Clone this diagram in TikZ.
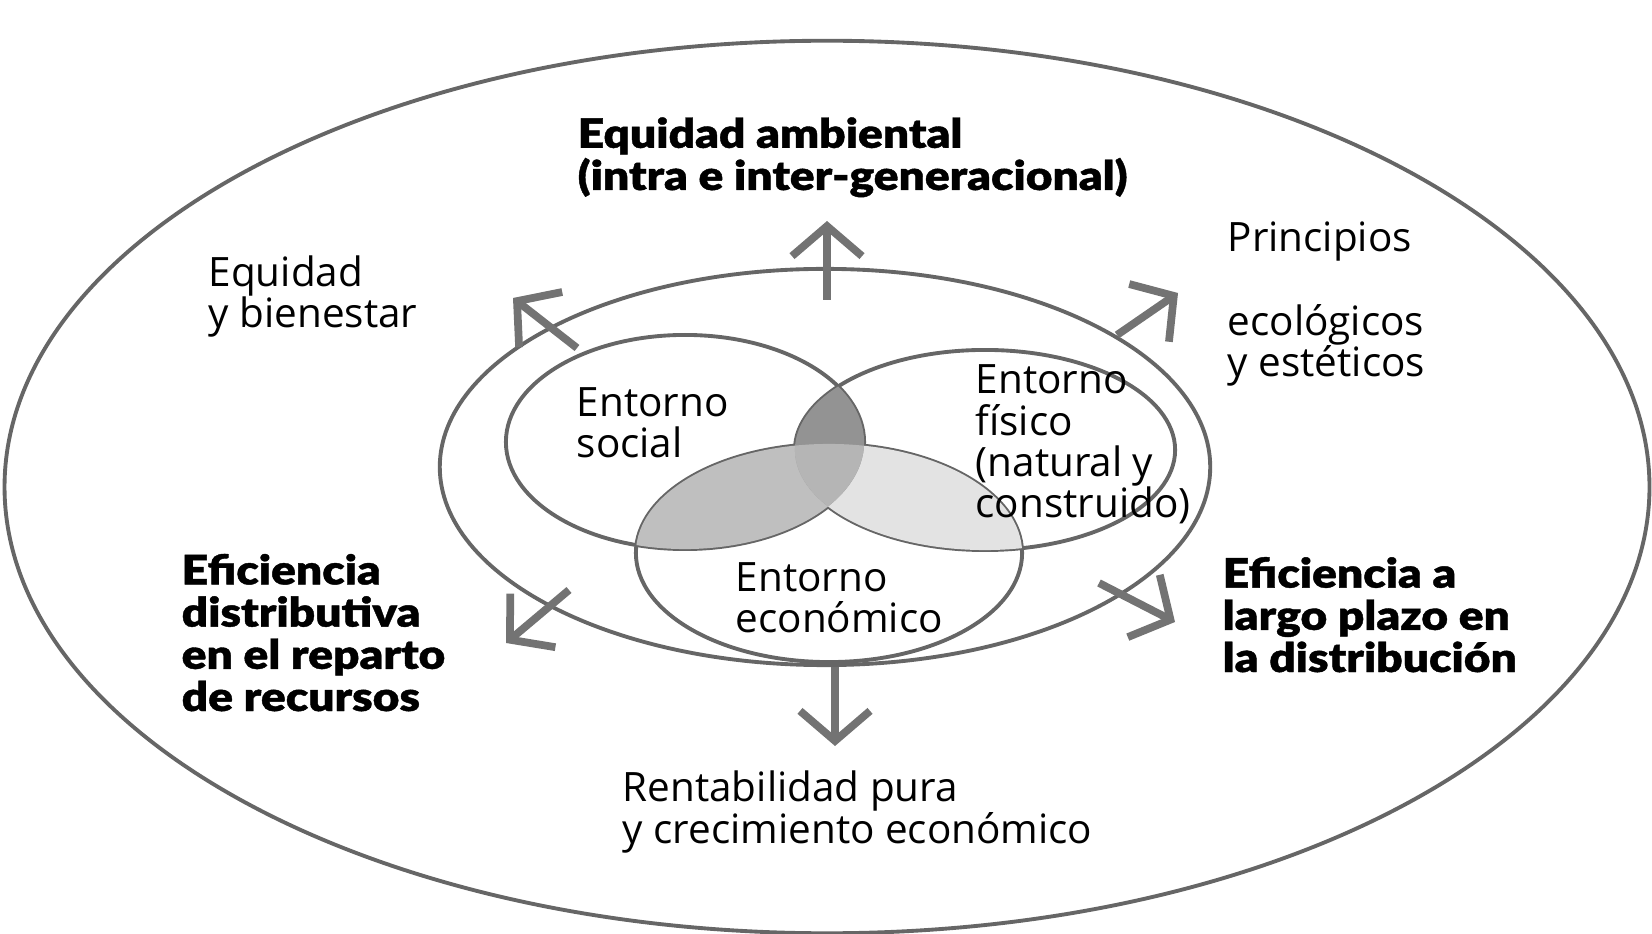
\documentclass[tikz,border=0pt]{standalone}
\usepackage{fontspec}
\setmainfont{Open Sans}
\newfontfamily\heavyfont[FakeStretch=1.14,FakeBold=1]{Lato Black}
\usetikzlibrary{arrows.meta}

\tikzset{
  ring/.style={draw=black!60, line width=1.1pt},
  spoke/.style={draw=black!55, line width=2.2pt, -{Straight Barb[length=3mm,width=7mm]}},
  plaintext/.style={font=\fontsize{11.5}{11.8}\selectfont, align=left, inner sep=0pt, anchor=base west},
  heavytext/.style={font=\heavyfont\fontsize{11.5}{12}\selectfont, align=left, inner sep=0pt, anchor=base west},
}

\begin{document}
\begin{tikzpicture}[x=0.01cm,y=-0.01cm]
  \useasboundingbox (0,0) rectangle (1652,934);

  % outer rings
  \draw[ring] (827,487) ellipse [x radius=8.22cm, y radius=4.46cm];
  \draw[ring] (825,467) ellipse [x radius=3.85cm, y radius=1.98cm];

  % the three environments
  \draw[ring] (685,442) ellipse [x radius=1.79cm, y radius=1.07cm];
  \draw[ring] (985,450) ellipse [x radius=1.90cm, y radius=1.00cm];
  \draw[ring] (829,553) ellipse [x radius=1.93cm, y radius=1.09cm];

  % shaded overlaps
  \begin{scope}
    \clip (829,553) ellipse [x radius=1.93cm, y radius=1.09cm];
    \fill[gray!50] (685,442) ellipse [x radius=1.79cm, y radius=1.07cm];
    \fill[gray!22] (985,450) ellipse [x radius=1.90cm, y radius=1.00cm];
  \end{scope}
  \begin{scope}
    \clip (685,442) ellipse [x radius=1.79cm, y radius=1.07cm];
    \fill[gray!85] (985,450) ellipse [x radius=1.90cm, y radius=1.00cm];
    \clip (985,450) ellipse [x radius=1.90cm, y radius=1.00cm];
    \fill[gray!58] (829,553) ellipse [x radius=1.93cm, y radius=1.09cm];
  \end{scope}

  % arrows
  \coordinate (nt) at (827,300);  \coordinate (nh) at (827,221);
  \coordinate (st) at (835,667);  \coordinate (sh) at (835,746);
  \coordinate (nwt) at (577,348); \coordinate (nwh) at (513,298);
  \coordinate (net) at (1117,335); \coordinate (neh) at (1178,293);
  \coordinate (swt) at (569,590); \coordinate (swh) at (506,643);
  \coordinate (set) at (1099,583); \coordinate (seh) at (1175,622);
  \draw[spoke] (nt) -- (nh);
  \draw[spoke] (st) -- (sh);
  \draw[spoke] (nwt) -- (nwh);
  \draw[spoke] (net) -- (neh);
  \draw[spoke] (swt) -- (swh);
  \draw[spoke] (set) -- (seh);

  % labels inside (anchored at the last line)
  \node[plaintext] (social) at (576,458) {Entorno\\social};
  \node[plaintext] (fisico) at (975,518) {Entorno\\físico\\(natural y\\construido)};
  \node[plaintext] (economico) at (735,633) {Entorno\\económico};

  % labels outside
  \node[heavytext] (ambiental) at (577,190) {Equidad ambiental\\(intra e inter-generacional)};
  \node[plaintext] (bienestar) at (208,328) {Equidad\\y bienestar};
  \node[plaintext] (principios) at (1227,377) {Principios\\[0.42cm]ecológicos\\y estéticos};
  \node[heavytext] (distributiva) at (181,711) {Eficiencia\\distributiva\\en el reparto\\de recursos};
  \node[heavytext] (plazo) at (1222,672) {Eficiencia a\\largo plazo en\\la distribución};
  \node[plaintext] (rentabilidad) at (622,843) {Rentabilidad pura\\y crecimiento económico};
\end{tikzpicture}
\end{document}
